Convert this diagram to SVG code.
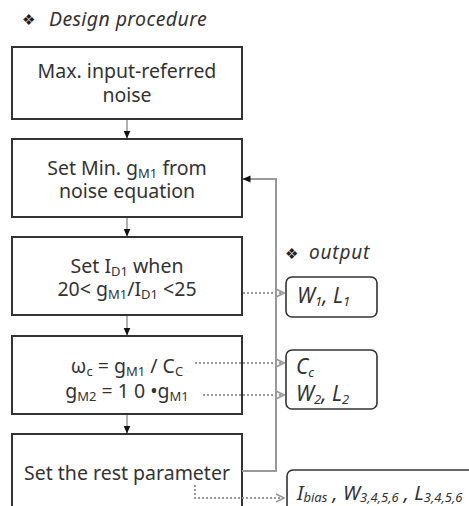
<svg xmlns="http://www.w3.org/2000/svg" width="469" height="506" viewBox="0 0 469 506">
  <defs>
    <marker id="solidHead" viewBox="0 0 8 8" refX="7.5" refY="4" markerWidth="8" markerHeight="8" markerUnits="userSpaceOnUse" orient="auto">
      <path d="M0,0.5 L8,4 L0,7.5 Z" fill="#111"/>
    </marker>
    <marker id="openHead" viewBox="0 0 10 10" refX="9" refY="5" markerWidth="10" markerHeight="10" markerUnits="userSpaceOnUse" orient="auto">
      <path d="M1,1 L9,5 L1,9" fill="none" stroke="#999" stroke-width="1.6"/>
    </marker>
  </defs>
  <style>
    .step { fill: #fff; stroke: #333; stroke-width: 2; }
    .out { fill: #fff; stroke: #333; stroke-width: 1.6; }
    .label { font-family: "Noto Sans", "Open Sans", sans-serif; font-size: 19.5px; fill: #333; text-anchor: middle; }
    .sub { font-size: 13px; }
    .ital { font-family: "Noto Sans", "Open Sans", sans-serif; font-style: italic; fill: #333; }
    .deco { font-family: "DejaVu Sans", sans-serif; font-size: 15px; fill: #222; }
    .flow { fill: none; stroke: #888; stroke-width: 1.3; marker-end: url(#solidHead); }
    .loop { fill: none; stroke: #999; stroke-width: 2; marker-end: url(#solidHead); }
    .dot { fill: none; stroke: #999; stroke-width: 2; stroke-dasharray: 2 2; marker-end: url(#openHead); }
  </style>

  <!-- headings -->
  <text class="deco" x="22" y="25">❖</text>
  <text class="ital" x="49" y="26" font-size="19.5" letter-spacing="0.4">Design procedure</text>
  <text class="deco" x="285" y="259">❖</text>
  <text class="ital" x="309" y="259" font-size="19" letter-spacing="0.8">output</text>

  <!-- procedure steps -->
  <g id="step-noise">
    <rect class="step" x="12" y="47" width="230" height="72"/>
    <text class="label" x="127" y="78">Max. input-referred</text>
    <text class="label" x="127" y="102">noise</text>
  </g>
  <g id="step-gm1">
    <rect class="step" x="12" y="139" width="230" height="78"/>
    <text class="label" x="127" y="175">Set Min. g<tspan class="sub" dy="3">M1</tspan><tspan dy="-3"> from</tspan></text>
    <text class="label" x="127" y="198">noise equation</text>
  </g>
  <g id="step-id1">
    <rect class="step" x="12" y="237" width="230" height="78"/>
    <text class="label" x="127" y="273">Set I<tspan class="sub" dy="3">D1</tspan><tspan dy="-3"> when</tspan></text>
    <text class="label" x="127" y="296">20&lt; g<tspan class="sub" dy="3">M1</tspan><tspan dy="-3">/I</tspan><tspan class="sub" dy="3">D1</tspan><tspan dy="-3"> &lt;25</tspan></text>
  </g>
  <g id="step-cc">
    <rect class="step" x="12" y="336" width="230" height="78"/>
    <text class="label" x="127" y="373">ω<tspan class="sub" dy="3">c</tspan><tspan dy="-3"> = g</tspan><tspan class="sub" dy="3">M1</tspan><tspan dy="-3"> / C</tspan><tspan class="sub" dy="3">C</tspan></text>
    <text class="label" x="127" y="398">g<tspan class="sub" dy="3">M2</tspan><tspan dy="-3"> = 1 0 •g</tspan><tspan class="sub" dy="3">M1</tspan></text>
  </g>
  <g id="step-rest">
    <rect class="step" x="12" y="434" width="230" height="80"/>
    <text class="label" x="127" y="480">Set the rest parameter</text>
  </g>

  <!-- outputs -->
  <g id="out-w1">
    <rect class="out" x="286" y="277" width="91" height="40" rx="6"/>
    <text class="ital" x="297" y="303" font-size="21">W<tspan class="sub" dy="3">1</tspan><tspan dy="-3">, L</tspan><tspan class="sub" dy="3">1</tspan></text>
  </g>
  <g id="out-cc">
    <rect class="out" x="286" y="350" width="91" height="59" rx="6"/>
    <text class="ital" x="296" y="374" font-size="21">C<tspan class="sub" dy="3">c</tspan></text>
    <text class="ital" x="296" y="401" font-size="21">W<tspan class="sub" dy="3">2</tspan><tspan dy="-3">, L</tspan><tspan class="sub" dy="3">2</tspan></text>
  </g>
  <g id="out-rest">
    <rect class="out" x="287" y="470" width="200" height="50" rx="6"/>
    <text class="ital" x="297" y="500" font-size="20">I<tspan class="sub" dy="2">bias</tspan><tspan dy="-2"> ,  W</tspan><tspan class="sub" dy="2">3,4,5,6</tspan><tspan dy="-2"> , L</tspan><tspan class="sub" dy="2">3,4,5,6</tspan></text>
  </g>

  <!-- connectors -->
  <g id="connectors">
    <path class="flow" d="M127,120 V138"/>
    <path class="flow" d="M127,218 V236"/>
    <path class="flow" d="M127,316 V335"/>
    <path class="flow" d="M127,415 V433"/>
    <path class="loop" d="M242,471 H276 V179 H243"/>
    <path class="dot" d="M243,293 H284"/>
    <path class="dot" d="M195,363 H284"/>
    <path class="dot" d="M203,395 H284"/>
    <path class="dot" d="M195,485 V498 H284"/>
  </g>
</svg>
